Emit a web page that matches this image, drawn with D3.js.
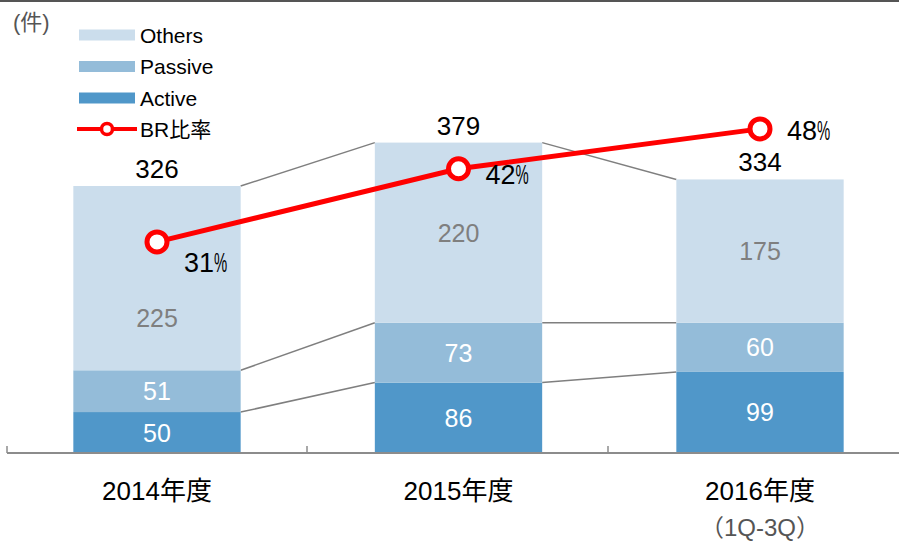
<!DOCTYPE html>
<html>
<head>
<meta charset="utf-8">
<script src="https://cdn.jsdelivr.net/npm/d3@7"></script>
<style>
body{margin:0;background:#fff;}
text{font-family:"Liberation Sans",Arial,"Noto Sans CJK JP",sans-serif;}
</style>
</head>
<body>
<div id="chart"></div>
<script>
const years = ["2014年度", "2015年度", "2016年度"];
const subLabels = ["", "", "(1Q-3Q)"];
const active = [50, 86, 99];
const passive = [51, 73, 60];
const others = [225, 220, 175];
const totals = [326, 379, 334];
const brRate = [31, 42, 48];
const seriesNames = ["Active", "Passive", "Others"];

const width = 899, height = 541;
const colors = {Active:"#5097c9", Passive:"#94bcd9", Others:"#cbddec"};

let svg = d3.select("#chart").append("svg").attr("width", width).attr("height", height);

// top border
svg.append("line").attr("x1",0).attr("x2",width).attr("y1",1).attr("y2",1)
    .attr("stroke","#555").attr("stroke-width",2);

var xScale = d3.scaleBand().domain(years).range([7, 910]).paddingInner(0.445).paddingOuter(0.22);
var yScale = d3.scaleLinear().domain([0, 400]).range([453, 125.4]);
var rScale = d3.scaleLinear().domain([0, 50]).range([448, 115.6]);

var rows = years.map((y,i)=>({year:y, Active:active[i], Passive:passive[i], Others:others[i]}));
var stack = d3.stack().keys(seriesNames)(rows);

// connector lines between bars
var bw = xScale.bandwidth();
stack.forEach(function(layer){
    for(let i=0;i<years.length-1;i++){
        svg.append("line")
            .attr("x1", xScale(years[i])+bw).attr("y1", yScale(layer[i][1]))
            .attr("x2", xScale(years[i+1])).attr("y2", yScale(layer[i+1][1]))
            .attr("stroke","#7f7f7f").attr("stroke-width",1.5);
    }
});

// bars
svg.append("g").selectAll("g").data(stack).enter().append("g")
    .attr("fill", d=>colors[d.key])
    .selectAll("rect").data(d=>d).enter().append("rect")
    .attr("x", d=>xScale(d.data.year))
    .attr("y", d=>yScale(d[1]))
    .attr("width", bw)
    .attr("height", d=>yScale(d[0])-yScale(d[1]));

// segment labels
stack.forEach(function(layer){
    layer.forEach(function(d,i){
        var mid = (yScale(d[0])+yScale(d[1]))/2;
        if(layer.key=="Others" && i==0) mid += 40;  // pushed down under the 31% label
        svg.append("text")
            .attr("x", xScale(d.data.year)+bw/2).attr("y", mid+9)
            .attr("text-anchor","middle").attr("font-size",25)
            .attr("fill", layer.key=="Others" ? "#7f7f7f" : "#fff")
            .text(d.data[layer.key]);
    });
});

// totals
svg.selectAll(".total").data(totals).enter().append("text")
    .attr("x",(d,i)=>xScale(years[i])+bw/2)
    .attr("y",(d,i)=>yScale(d)-8)
    .attr("text-anchor","middle").attr("font-size",26).attr("fill","#000")
    .text(d=>d);

// axis
svg.append("line").attr("x1",7).attr("x2",width).attr("y1",453).attr("y2",453)
    .attr("stroke","#8c8c8c").attr("stroke-width",2);
[7, 307, 608].forEach(function(x){
    svg.append("line").attr("x1",x).attr("x2",x).attr("y1",446).attr("y2",453)
        .attr("stroke","#8c8c8c").attr("stroke-width",1.5);
});

svg.selectAll(".xl").data(years).enter().append("text")
    .attr("x", d=>xScale(d)+bw/2).attr("y", 500)
    .attr("text-anchor","middle").attr("font-size",26).attr("fill","#000")
    .text(d=>d);
svg.selectAll(".xs").data(subLabels).enter().append("text")
    .attr("x", (d,i)=>xScale(years[i])+bw/2).attr("y", 536)
    .attr("text-anchor","middle").attr("font-size",24).attr("fill","#555")
    .text(d=>d.replace("(","（").replace(")","）"));

// BR line
var line = d3.line().x((d,i)=>xScale(years[i])+bw/2).y(d=>rScale(d));
svg.append("path").datum(brRate).attr("d",line)
    .attr("fill","none").attr("stroke","#ff0000").attr("stroke-width",5);
svg.selectAll(".dot").data(brRate).enter().append("circle")
    .attr("cx",(d,i)=>xScale(years[i])+bw/2).attr("cy",d=>rScale(d)).attr("r",10)
    .attr("fill","#fff").attr("stroke","#ff0000").attr("stroke-width",5);
var labelDy = [30, 15, 11];
brRate.forEach(function(d,i){
    var x = xScale(years[i])+bw/2+27, y = rScale(d)+labelDy[i];
    svg.append("text").attr("x",x).attr("y",y)
        .attr("font-size",27).attr("fill","#000").text(d);
    // narrow percent sign
    svg.append("text").attr("transform","translate("+(x+30)+","+y+") scale(0.55,1)")
        .attr("font-size",27).attr("fill","#000").text("%");
});

// unit
svg.append("text").attr("x",13).attr("y",30).attr("font-size",22).attr("fill","#555").text("(件)");

// legend
var legend = svg.append("g");
["Others","Passive","Active"].forEach(function(k,i){
    var y = 35 + i*31.5;
    legend.append("rect").attr("x",79).attr("y",y-5.5).attr("width",56).attr("height",11).attr("fill",colors[k]);
    legend.append("text").attr("x",140).attr("y",y+7.5).attr("font-size",21).attr("fill","#000").text(k);
});
legend.append("line").attr("x1",77).attr("x2",137).attr("y1",129).attr("y2",129)
    .attr("stroke","#ff0000").attr("stroke-width",4);
legend.append("circle").attr("cx",107).attr("cy",129).attr("r",5.5)
    .attr("fill","#fff").attr("stroke","#ff0000").attr("stroke-width",3.5);
legend.append("text").attr("x",140).attr("y",136.5).attr("font-size",21).attr("fill","#000").text("BR比率");
</script>
</body>
</html>
